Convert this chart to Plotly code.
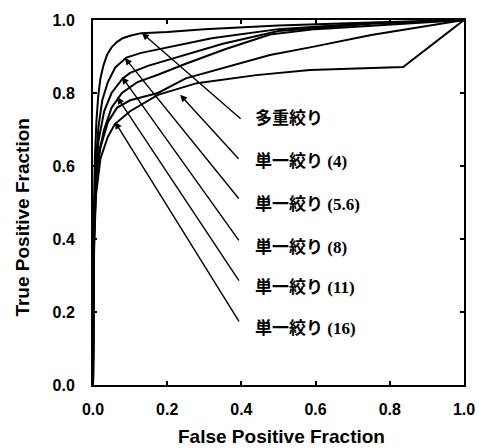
import plotly.graph_objects as go

# ROC curves (False Positive Fraction, True Positive Fraction)
c1_x = [0, 0.002, 0.005, 0.009, 0.014, 0.02, 0.028, 0.038, 0.05, 0.065, 0.08, 0.10, 0.13, 0.20, 0.30, 0.50, 0.75, 1.0]
c1_y = [0, 0.45, 0.62, 0.72, 0.79, 0.84, 0.875, 0.905, 0.925, 0.940, 0.950, 0.957, 0.964, 0.967, 0.975, 0.985, 0.993, 1.0]

c2_x = [0, 0.003, 0.008, 0.015, 0.025, 0.04, 0.06, 0.09, 0.13, 0.20, 0.32, 0.50, 0.75, 1.0]
c2_y = [0, 0.45, 0.62, 0.71, 0.78, 0.83, 0.87, 0.897, 0.910, 0.925, 0.950, 0.975, 0.992, 1.0]

c3_x = [0, 0.003, 0.008, 0.015, 0.03, 0.05, 0.08, 0.10, 0.15, 0.25, 0.35, 0.50, 0.75, 1.0]
c3_y = [0, 0.42, 0.58, 0.67, 0.75, 0.80, 0.84, 0.855, 0.875, 0.905, 0.935, 0.970, 0.990, 1.0]

c4_x = [0, 0.003, 0.008, 0.015, 0.03, 0.05, 0.078, 0.12, 0.175, 0.25, 0.356, 0.477, 0.60, 0.75, 1.0]
c4_y = [0, 0.40, 0.55, 0.63, 0.70, 0.76, 0.80, 0.83, 0.850, 0.880, 0.920, 0.960, 0.975, 0.985, 1.0]

c5_x = [0, 0.003, 0.008, 0.02, 0.04, 0.065, 0.10, 0.175, 0.25, 0.356, 0.477, 0.585, 0.75, 1.0]
c5_y = [0, 0.40, 0.56, 0.65, 0.72, 0.76, 0.78, 0.800, 0.840, 0.870, 0.904, 0.925, 0.959, 1.0]

c6_x = [0, 0.003, 0.008, 0.02, 0.04, 0.059, 0.10, 0.175, 0.28, 0.44, 0.585, 0.836, 1.0]
c6_y = [0, 0.38, 0.52, 0.62, 0.68, 0.715, 0.750, 0.795, 0.827, 0.849, 0.863, 0.871, 1.0]

curves = [(c1_x, c1_y), (c2_x, c2_y), (c3_x, c3_y), (c4_x, c4_y), (c5_x, c5_y), (c6_x, c6_y)]

labels = ["多重絞り", "単一絞り (4)", "単一絞り (5.6)", "単一絞り (8)", "単一絞り (11)", "単一絞り (16)"]
label_y = [0.732, 0.611, 0.495, 0.378, 0.266, 0.155]
arrow_tail_x = [0.402, 0.396, 0.396, 0.396, 0.396, 0.396]
arrow_tail_y = [0.726, 0.616, 0.507, 0.392, 0.282, 0.170]
arrow_head_x = [0.132, 0.235, 0.086, 0.078, 0.065, 0.059]
arrow_head_y = [0.964, 0.795, 0.896, 0.844, 0.789, 0.721]

tick_vals = [0.0, 0.2, 0.4, 0.6, 0.8, 1.0]
tick_text = ["0.0", "0.2", "0.4", "0.6", "0.8", "1.0"]

x_title = "False Positive Fraction"
y_title = "True Positive Fraction"

fig = go.Figure()
for cx, cy in curves:
    fig.add_trace(go.Scatter(x=cx, y=cy, mode="lines",
                             line=dict(color="black", width=2),
                             showlegend=False, hoverinfo="skip"))

title_font = dict(family="Liberation Sans", size=19, color="black", weight="bold")
annotations = []
for tx, ty, hx, hy in zip(arrow_tail_x, arrow_tail_y, arrow_head_x, arrow_head_y):
    annotations.append(dict(x=hx, y=hy, ax=tx, ay=ty, xref="x", yref="y",
                            axref="x", ayref="y", text="", showarrow=True,
                            arrowhead=2, arrowsize=1.0, arrowwidth=1.4,
                            arrowcolor="black"))
for lab, ly in zip(labels, label_y):
    annotations.append(dict(x=0.43, y=ly, xref="x", yref="y", text=lab,
                            showarrow=False, xanchor="left", yanchor="middle",
                            font=dict(family="Liberation Serif, Noto Sans CJK JP", size=17,
                                      color="black", weight="bold")))
annotations.append(dict(x=0.508, y=-0.142, xref="paper", yref="paper", text=x_title,
                        showarrow=False, xanchor="center", yanchor="middle",
                        font=title_font))
annotations.append(dict(x=-0.19, y=0.46, xref="paper", yref="paper", text=y_title,
                        showarrow=False, xanchor="center", yanchor="middle",
                        textangle=-90, font=title_font))

fig.update_layout(
    width=479, height=448,
    margin=dict(l=93, r=15, t=20, b=63, autoexpand=False),
    paper_bgcolor="white", plot_bgcolor="white",
    annotations=annotations,
    font=dict(family="Liberation Sans", color="black"),
)
axis_common = dict(range=[0, 1], tickvals=tick_vals, ticktext=tick_text,
                   showgrid=False, zeroline=False, showline=True,
                   linecolor="black", linewidth=2, mirror="allticks",
                   ticks="inside", ticklen=4, tickwidth=1.5, tickcolor="black",
                   automargin=False,
                   tickfont=dict(family="Liberation Sans", size=16,
                                 color="black", weight="bold"))
fig.update_xaxes(**axis_common, ticklabelstandoff=9)
fig.update_yaxes(**axis_common, ticklabelstandoff=13)

fig.write_html("out.html", config={"displayModeBar": False},
               post_script="document.body.style.margin='0';document.body.style.overflow='hidden';")
